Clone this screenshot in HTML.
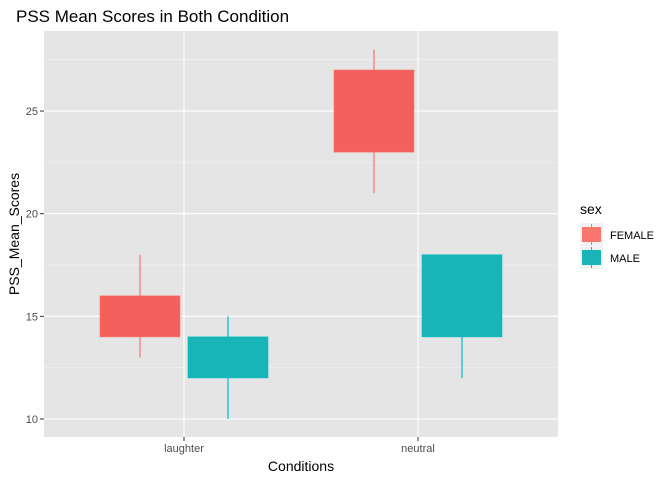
<!DOCTYPE html>
<html><head><meta charset="utf-8"><style>
body{margin:0;background:#fff;font-family:"Liberation Sans",Arial,sans-serif}
</style></head><body>
<svg id="c" width="672" height="480" xmlns="http://www.w3.org/2000/svg">
<text x="16" y="22" font-size="17" fill="#000">PSS Mean Scores in Both Condition</text>
<rect x="44" y="31" width="514" height="406" fill="#e5e5e5"/>
<g id="grid"></g>
<g id="boxes"></g>
<g id="axes"></g>
<text x="301" y="471" font-size="14" text-anchor="middle">Conditions</text>
<text transform="translate(19,234) rotate(-90)" font-size="14" text-anchor="middle">PSS_Mean_Scores</text>
<g>
<text x="580" y="214" font-size="14">sex</text>
<g>
<rect x="580" y="223" width="23" height="23" fill="#f2f2f2"/>
<line x1="591.5" y1="224" x2="591.5" y2="245" stroke="#F8766D"/>
<rect x="582" y="227" width="19" height="15" fill="#F8766D"/>
<text x="610" y="239" font-size="11">FEMALE</text></g>
<g>
<rect x="580" y="246" width="23" height="23" fill="#f2f2f2"/>
<line x1="591.5" y1="247" x2="591.5" y2="268" stroke="#00BFC4"/>
<rect x="582" y="250" width="19" height="15" fill="#19B4B8"/>
<text x="610" y="262" font-size="11">MALE</text></g>
</g>
</svg>
<script>
const categories=["laughter","neutral"];
const groups=["FEMALE","MALE"];
const mins=[[13,10],[21,12]];
const q1=[[14,12],[23,14]];
const q3=[[16,14],[27,18]];
const maxs=[[18,15],[28,18]];
const yTicks=[10,15,20,25];
const NS="http://www.w3.org/2000/svg";
const fills=["#F4605B","#19B4B8"];
const strokes=["#F8766D","#00BFC4"];
const y=v=>419-(v-10)*20.53;
const x=i=>184+i*234;
function mk(tag,attrs,parent){const e=document.createElementNS(NS,tag);for(const k in attrs)e.setAttribute(k,attrs[k]);parent.appendChild(e);return e;}
const grid=document.getElementById('grid'),boxes=document.getElementById('boxes'),axes=document.getElementById('axes');
for(let i=0;i<yTicks.length;i++){const t=yTicks[i];
 const g=mk('line',{x1:44,x2:558,y1:y(t),y2:y(t),stroke:'#fff','stroke-width':1.1},grid);
 
 
 const m=mk('line',{x1:44,x2:558,y1:y(t+2.5),y2:y(t+2.5),stroke:'#f2f2f2','stroke-width':0.6},grid);
 
 
 const tl=mk('text',{x:38,y:y(t)+4,'font-size':11,fill:'#4d4d4d','text-anchor':'end'},axes);tl.textContent=t;
 
 
 mk('line',{x1:40,x2:44,y1:y(t),y2:y(t),stroke:'#333'},axes);
}
{const m=mk('line',{x1:44,x2:558,y1:y(7.5+0),y2:y(7.5),stroke:'none'},grid);}
for(let i=0;i<categories.length;i++){
 const g=mk('line',{x1:x(i),x2:x(i),y1:31,y2:437,stroke:'#fff','stroke-width':1.1},grid);
 
 
 const tl=mk('text',{x:x(i),y:452,'font-size':11,fill:'#4d4d4d','text-anchor':'middle'},axes);tl.textContent=categories[i];
 
 
 mk('line',{x1:x(i),x2:x(i),y1:437,y2:441,stroke:'#333'},axes);
 for(let j=0;j<groups.length;j++){
  const cx=x(i)+(j===0?-44:44);
  const w=mk('line',{x1:cx,x2:cx,y1:y(maxs[i][j]),y2:y(mins[i][j]),stroke:strokes[j],'stroke-width':1.2},boxes);
  
  
  const b=mk('rect',{x:cx-40,y:y(q3[i][j]),width:80,height:y(q1[i][j])-y(q3[i][j]),fill:fills[j],stroke:strokes[j],'stroke-width':0.6},boxes);
  
  
 }
}
</script>
</body></html>
